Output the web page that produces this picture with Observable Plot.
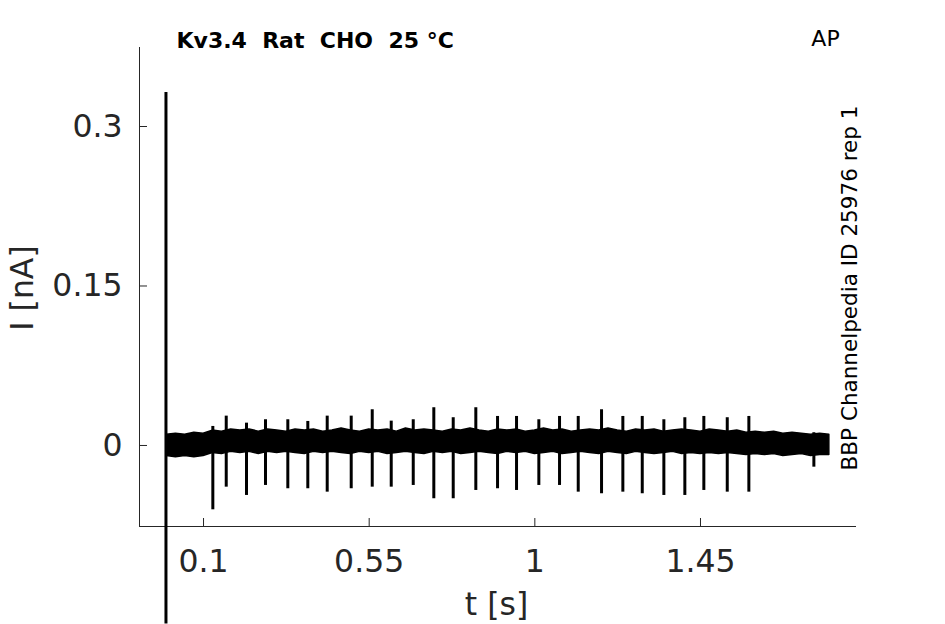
<!DOCTYPE html>
<html>
<head>
<meta charset="utf-8">
<script src="https://cdn.jsdelivr.net/npm/d3@7"></script>
<script src="https://cdn.jsdelivr.net/npm/@observablehq/plot@0.6"></script>
<style>
  html, body { margin: 0; padding: 0; background: #fff; }
  svg text { white-space: pre; }
</style>
</head>
<body>
<div id="chart"></div>
<script>
// ---- Data ----
const titleText = "Kv3.4  Rat  CHO  25 °C";
const cornerText = "AP";
const sideText = "BBP Channelpedia ID 25976 rep 1";
const xLabel = "t [s]";
const yLabel = "I [nA]";

const xTicks = [0.1, 0.55, 1, 1.45];
const xTickLabels = ["0.1", "0.55", "1", "1.45"];
const yTicks = [0, 0.15, 0.3];
const yTickLabels = ["0", "0.15", "0.3"];

// capacitive transient at the start of the trace
const transientT = [-0.002];
const transientMin = [-0.168];
const transientMax = [0.332];

// AP-evoked spikes: time (s), minimum and maximum current (nA)
const spikeT = [0.1253, 0.1617, 0.2168, 0.2684, 0.3290, 0.3833, 0.4360, 0.5012, 0.5583, 0.6099,
                0.6697, 0.7256, 0.7783, 0.8397, 0.8987, 0.9503, 1.0109, 1.0671, 1.1179, 1.1812,
                1.2391, 1.2918, 1.3505, 1.4075, 1.4591, 1.5227, 1.5814, 1.7580];
const spikeMin = [-0.0605, -0.0392, -0.0470, -0.0376, -0.0407, -0.0407, -0.0439, -0.0407, -0.0392, -0.0392,
                  -0.0376, -0.0501, -0.0501, -0.0423, -0.0407, -0.0423, -0.0376, -0.0376, -0.0439, -0.0454,
                  -0.0439, -0.0454, -0.0470, -0.0470, -0.0423, -0.0439, -0.0439, -0.0204];
const spikeMax = [0.0179, 0.0276, 0.0210, 0.0242, 0.0242, 0.0226, 0.0276, 0.0276, 0.0336, 0.0229,
                  0.0242, 0.0355, 0.0261, 0.0355, 0.0273, 0.0273, 0.0242, 0.0273, 0.0273, 0.0336,
                  0.0273, 0.0273, 0.0242, 0.0261, 0.0273, 0.0261, 0.0273, 0.0120];

// noise envelope of the baseline trace
const envT = [0.000, 0.025, 0.050, 0.075, 0.100, 0.125, 0.150, 0.175, 0.200, 0.225,
              0.250, 0.275, 0.300, 0.325, 0.350, 0.375, 0.400, 0.425, 0.450, 0.475,
              0.500, 0.525, 0.550, 0.575, 0.600, 0.625, 0.650, 0.675, 0.700, 0.725,
              0.750, 0.775, 0.800, 0.825, 0.850, 0.875, 0.900, 0.925, 0.950, 0.975,
              1.000, 1.025, 1.050, 1.075, 1.100, 1.125, 1.150, 1.175, 1.200, 1.225,
              1.250, 1.275, 1.300, 1.325, 1.350, 1.375, 1.400, 1.425, 1.450, 1.475,
              1.500, 1.525, 1.550, 1.575, 1.600, 1.625, 1.650, 1.675, 1.700, 1.725,
              1.750, 1.775, 1.800];
const envUpper = [0.010, 0.011, 0.010, 0.012, 0.011, 0.014, 0.013, 0.015, 0.014, 0.015,
                  0.013, 0.015, 0.014, 0.013, 0.015, 0.014, 0.015, 0.013, 0.014, 0.016,
                  0.014, 0.013, 0.015, 0.014, 0.015, 0.013, 0.016, 0.014, 0.015, 0.014,
                  0.013, 0.015, 0.014, 0.016, 0.014, 0.013, 0.015, 0.014, 0.015, 0.013,
                  0.014, 0.016, 0.014, 0.015, 0.013, 0.014, 0.015, 0.014, 0.016, 0.014,
                  0.013, 0.015, 0.014, 0.015, 0.013, 0.014, 0.015, 0.014, 0.013, 0.015,
                  0.014, 0.013, 0.014, 0.012, 0.013, 0.012, 0.013, 0.011, 0.012, 0.011,
                  0.010, 0.011, 0.010];
const envLower = [-0.010, -0.011, -0.010, -0.011, -0.010, -0.007, -0.008, -0.006, -0.007, -0.006,
                  -0.008, -0.006, -0.007, -0.006, -0.007, -0.008, -0.006, -0.007, -0.006, -0.007,
                  -0.008, -0.006, -0.007, -0.006, -0.008, -0.007, -0.006, -0.007, -0.008, -0.006,
                  -0.007, -0.006, -0.008, -0.007, -0.006, -0.007, -0.008, -0.006, -0.007, -0.006,
                  -0.008, -0.007, -0.006, -0.008, -0.007, -0.006, -0.007, -0.008, -0.006, -0.007,
                  -0.008, -0.006, -0.007, -0.008, -0.007, -0.006, -0.008, -0.007, -0.008, -0.007,
                  -0.008, -0.007, -0.008, -0.009, -0.008, -0.009, -0.008, -0.010, -0.009, -0.008,
                  -0.010, -0.009, -0.009];

const xDomain = [-0.0739, 1.8738];
const yDomain = [-0.0762, 0.3743];

// ---- Chart ----
const axisColor = "#262626";
const font = "DejaVu Sans";

const chart = Plot.plot({
  width: 945,
  height: 624,
  marginLeft: 139,
  marginRight: 89,
  marginTop: 47,
  marginBottom: 98,
  style: { fontFamily: font, background: "#fff", overflow: "visible" },
  x: { domain: xDomain },
  y: { domain: yDomain },
  marks: [
    // axis lines (left and bottom only)
    Plot.ruleY([yDomain[0]], { stroke: axisColor, strokeWidth: 1 }),
    Plot.ruleX([xDomain[0]], { stroke: axisColor, strokeWidth: 1 }),
    // inward ticks
    Plot.tickX(xTicks, { x: d => d, insetTop: 471, stroke: axisColor, strokeWidth: 1 }),
    Plot.tickY(yTicks, { y: d => d, insetRight: 709, stroke: axisColor, strokeWidth: 1 }),
    // tick labels
    Plot.axisX({ ticks: xTicks, tickFormat: d => xTickLabels[xTicks.indexOf(d)], tickSize: 0, tickPadding: 23,
                 fontSize: 31.5, fill: axisColor, label: null }),
    Plot.axisY({ ticks: yTicks, tickFormat: d => yTickLabels[yTicks.indexOf(d)], tickSize: 0, tickPadding: 17,
                 fontSize: 31.5, fill: axisColor, label: null }),
    // trace: noise band
    Plot.areaY(envT, { x: d => d, y1: (d, i) => envLower[i], y2: (d, i) => envUpper[i],
                       fill: "black", stroke: "black", strokeWidth: 1.5 }),
    // spikes
    Plot.ruleX(spikeT, { x: d => d, y1: (d, i) => spikeMin[i], y2: (d, i) => spikeMax[i],
                         stroke: "black", strokeWidth: 3 }),
    // transient
    Plot.ruleX(transientT, { x: d => d, y1: (d, i) => transientMin[i], y2: (d, i) => transientMax[i],
                             stroke: "black", strokeWidth: 3 }),
    // axis labels
    Plot.text([yLabel], { text: d => d, frameAnchor: "left", textAnchor: "middle", lineAnchor: "middle",
                          dx: -117, dy: 1, rotate: -90, fontSize: 31.5, fill: axisColor }),
    Plot.text([xLabel], { text: d => d, frameAnchor: "bottom", textAnchor: "middle", lineAnchor: "middle",
                          dx: -1.5, dy: 78, fontSize: 31.5, fill: axisColor }),
    // title and annotations
    Plot.text([titleText], { text: d => d, frameAnchor: "top-left", textAnchor: "start", lineAnchor: "middle",
                             dx: 37, dy: -7, fontSize: 22, fontWeight: "bold", fill: "black" }),
    Plot.text([cornerText], { text: d => d, frameAnchor: "top-right", textAnchor: "middle", lineAnchor: "middle",
                              dx: -31, dy: -9, fontSize: 22, fill: "black" }),
    Plot.text([sideText], { text: d => d, frameAnchor: "right", textAnchor: "middle", lineAnchor: "middle",
                            dx: -6, dy: 1, rotate: -90, fontSize: 21.5, fill: "black" })
  ]
});

document.getElementById("chart").appendChild(chart);
</script>
</body>
</html>
